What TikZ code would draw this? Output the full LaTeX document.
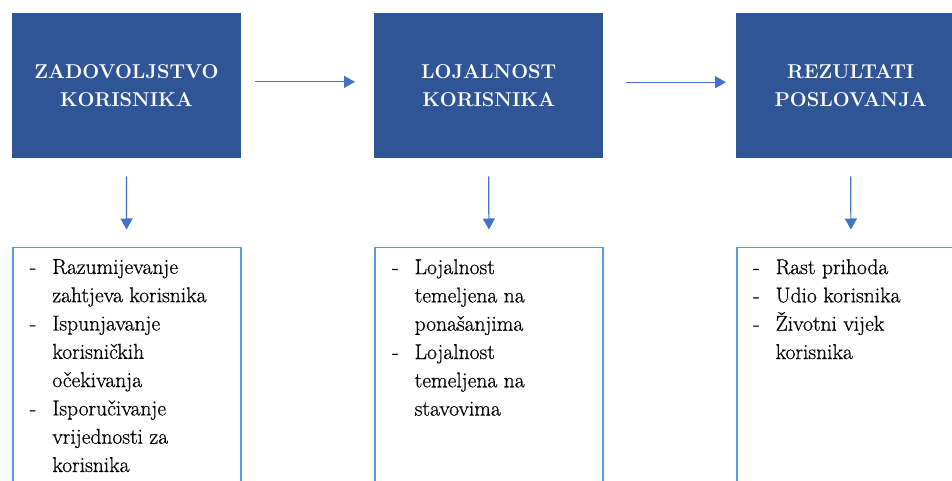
\documentclass[tikz,border=0pt]{standalone}
\usepackage{fontspec}
\newfontfamily\lmheavy{Latin Modern Roman}[FakeBold=0.6]
\usetikzlibrary{arrows.meta}
\definecolor{darkbox}{HTML}{2F5597}
\definecolor{arrowblue}{HTML}{4472C4}
\definecolor{framelb}{HTML}{5B9BD5}
\tikzset{
 headbox/.style={fill=darkbox, text=white, minimum width=229pt, minimum height=145pt, inner sep=0pt, align=center, anchor=north west, font=\fontsize{20}{28}\selectfont\bfseries},
 listbox/.style={draw=framelb, line width=1.8pt, minimum width=228pt, minimum height=260pt, anchor=north west, inner sep=0pt},
 listtext/.style={anchor=north west, inner sep=0pt, align=left, font=\lmheavy\fontsize{21.5}{28.3}\selectfont},
 arr/.style={draw=arrowblue, line width=1.2pt, -{Triangle[width=12pt,length=11pt]}}
}
\newcommand{\itm}{\makebox[22.5pt][l]{-}}
\newcommand{\cont}{\hspace*{22.5pt}}
\begin{document}
\begin{tikzpicture}[x=1pt,y=-1pt]
\useasboundingbox (0,0) rectangle (952,481);
\clip (0,0) rectangle (952,481);
\fill[white] (0,0) rectangle (952,481);
\node[headbox] (h1) at (11.7,13) {ZADOVOLJSTVO\\KORISNIKA};
\node[headbox] (h2) at (374,13) {LOJALNOST\\KORISNIKA};
\node[headbox] (h3) at (736,13) {REZULTATI\\POSLOVANJA};
\node[listbox] (b1) at (11.7,246.5) {};
\node[listbox] (b2) at (374,246.5) {};
\node[listbox] (b3) at (736,246.5) {};
\node[listtext] (t1) at ([xshift=18pt,yshift=-12.5pt]b1.north west)
 {\itm Razumijevanje\\\cont zahtjeva korisnika\\\itm Ispunjavanje\\\cont korisničkih\\\cont očekivanja\\\itm Isporučivanje\\\cont vrijednosti za\\\cont korisnika};
\node[listtext] (t2) at ([xshift=18pt,yshift=-12.5pt]b2.north west)
 {\itm Lojalnost\\\cont temeljena na\\\cont ponašanjima\\\itm Lojalnost\\\cont temeljena na\\\cont stavovima};
\node[listtext] (t3) at ([xshift=17pt,yshift=-12.5pt]b3.north west)
 {\itm Rast prihoda\\\itm Udio korisnika\\\itm Životni vijek\\\cont korisnika};
\draw[arr] ([shift={(14pt,3.8pt)}]h1.east) -- ([shift={(-19pt,3.8pt)}]h2.west);
\draw[arr] ([shift={(22.7pt,3.5pt)}]h2.east) -- ([shift={(-10pt,3.5pt)}]h3.west);
\draw[arr] ([yshift=-18pt]h1.south) -- ([yshift=17pt]b1.north);
\draw[arr] ([yshift=-18pt]h2.south) -- ([yshift=17pt]b2.north);
\draw[arr] ([yshift=-18pt]h3.south) -- ([yshift=17pt]b3.north);
\end{tikzpicture}
\end{document}
